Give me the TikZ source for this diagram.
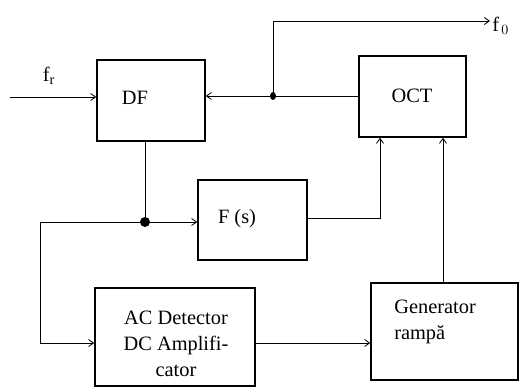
\documentclass[tikz,border=0pt]{standalone}
\usepackage{fontspec}
\setmainfont{Liberation Serif}
\usetikzlibrary{calc,arrows.meta,positioning}

\tikzset{
  blok/.style={draw, line width=1.1pt, inner sep=0pt},
  sig/.style={line width=0.6pt},
  txt/.style={font=\fontsize{14.5}{18.5}\selectfont, inner sep=0pt}
}

\begin{document}
\begin{tikzpicture}[x=0.025cm, y=-0.025cm, >={Straight Barb[length=3.5pt,width=5pt]}]
    \useasboundingbox (0,0) rectangle (531,387);
    % blocks
    \node[blok, minimum width=2.7cm, minimum height=2.025cm] (df) at (151,100.5) {};
    \node[blok, minimum width=2.675cm, minimum height=2.025cm] (oct) at (412.5,96.5) {};
    \node[blok, minimum width=2.725cm, minimum height=2cm] (fs) at (252.5,220) {};
    \node[blok, minimum width=4cm, minimum height=2.45cm] (ac) at (175,337) {};
    \node[blok, minimum width=3.675cm, minimum height=2.425cm] (gen) at (444.5,331.5) {};
    % texts
    \node[txt] (dftxt) at (135,98) {DF};
    \node[txt] (octtxt) at (412,96) {OCT};
    \node[txt] (fstxt) at (237,219) {F (s)};
    \node[txt, align=center] (actxt) at (176,344) {AC Detector\\DC Amplifi-\\cator};
    \node[txt, align=left, anchor=west] (gentxt) at (394,322) {Generator\\rampă};
    % junctions and free ends
    \coordinate (jt) at (273,96);
    \coordinate (jd) at (145,222);
    \coordinate (in) at (10,97);
    \coordinate (out) at (490,21);
    \coordinate (ain) at (40,343);
    \coordinate (ao) at (255,343);
    \coordinate (fo) at (380,218);
    \coordinate (gu) at (443,283);
    % connections
    \draw[sig,->] (in) -- (in -| df.west);
    \node[txt, anchor=south] (fr) at (49,85) {f$_\mathrm{r}$};
    \draw[sig] (oct.west |- jt) -- (jt);
    \draw[sig,->] (jt) -- (jt -| df.east);
    \draw[sig,->] (jt) |- (out);
    \node[txt, anchor=west] (fo0) at ($(out)+(2,5)$) {f$_{\,0}$};
    \draw[sig] (df.south -| jd) -- (jd);
    \draw[sig,->] (jd) -- (jd -| fs.west);
    \draw[sig] (jd) -| (ain);
    \draw[sig,->] (ain) -- (ain -| ac.west);
    \draw[sig,->] (fo -| fs.east) -| (oct.south -| fo);
    \draw[sig,->] (gu) -- (gu |- oct.south);
    \draw[sig,->] (ao) -- (ao -| gen.west);
    \fill (jt) ellipse (3 and 4);
    \fill (jd) circle (5);
\end{tikzpicture}
\end{document}
